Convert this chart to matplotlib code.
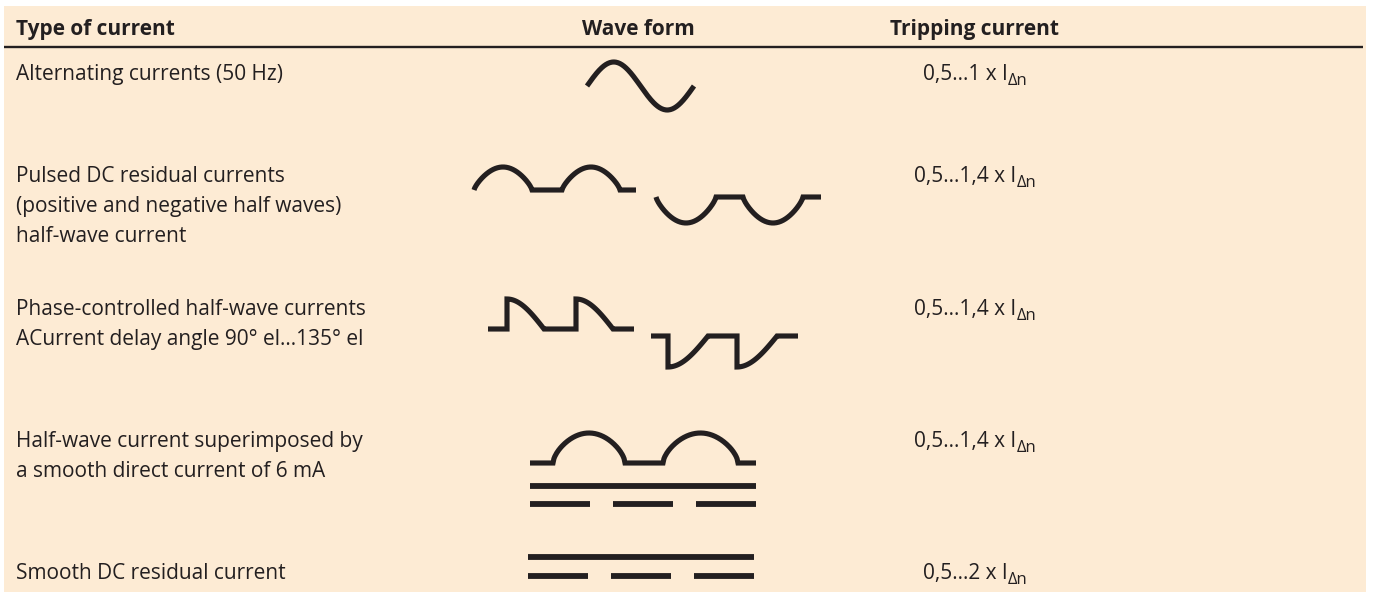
import numpy as np
import matplotlib
matplotlib.use("Agg")
import matplotlib.pyplot as plt
from matplotlib.patches import Rectangle

# ---------------- data ----------------
headers = ["Type of current", "Wave form", "Tripping current"]
current_types = [
    ["Alternating currents (50 Hz)"],
    ["Pulsed DC residual currents", "(positive and negative half waves)", "half-wave current"],
    ["Phase-controlled half-wave currents", "ACurrent delay angle 90° el…135° el"],
    ["Half-wave current superimposed by", "a smooth direct current of 6 mA"],
    ["Smooth DC residual current"],
]
wave_forms = ["ac", "pulsed", "phase", "pulsed_smooth", "smooth"]
trip_min = [0.5, 0.5, 0.5, 0.5, 0.5]
trip_max = [1, 1.4, 1.4, 1.4, 2]
trip_symbol = "I"
trip_sub = "Δn"

# ---------------- style / layout ----------------
W, H = 1373, 592
BG = "#FDEBD4"
INK = "#231F20"
FONT = "Open Sans"
FS = 15
LW_WAVE = 3.7
LW_BAR = 4.2
row_base = [80, 182, 315, 447, 579]
line_gap = 30
col_x = [16, 638, 975]

plt.rcParams["font.family"] = [FONT, "DejaVu Sans"]

fig = plt.figure(figsize=(W / 100, H / 100), dpi=100)
fig.patch.set_facecolor("white")
ax = fig.add_axes([0, 0, 1, 1])
ax.set_xlim(0, W)
ax.set_ylim(H, 0)
ax.axis("off")
ax.add_patch(Rectangle((4, 6), 1362, H - 6, fc=BG, ec="none", zorder=0))

# header
ax.text(col_x[0], 35, headers[0], fontsize=FS, fontweight="bold", color=INK, ha="left", va="baseline")
ax.text(col_x[1], 35, headers[1], fontsize=FS, fontweight="bold", color=INK, ha="center", va="baseline")
ax.text(col_x[2], 35, headers[2], fontsize=FS, fontweight="bold", color=INK, ha="center", va="baseline")
ax.plot([4, 1363], [46.5, 46.5], color=INK, lw=1.7, solid_capstyle="butt")


def fmt(v):
    return f"{v:g}".replace(".", ",")


renderer = fig.canvas.get_renderer()

# text columns
for i, lines in enumerate(current_types):
    for j, ln in enumerate(lines):
        ax.text(col_x[0], row_base[i] + j * line_gap, ln, fontsize=FS, color=INK,
                ha="left", va="baseline")
    main = f"{fmt(trip_min[i])}…{fmt(trip_max[i])} x {trip_symbol}"
    t1 = ax.text(0, row_base[i], main, fontsize=FS, color=INK, ha="left", va="baseline")
    t2 = ax.text(0, row_base[i] + 5, trip_sub, fontsize=FS * 0.8, color=INK, ha="left", va="baseline")
    w1 = t1.get_window_extent(renderer).width
    w2 = t2.get_window_extent(renderer).width
    x0 = col_x[2] - (w1 + w2) / 2
    t1.set_x(x0)
    t2.set_x(x0 + w1 + 0.5)


# ---------------- wave form glyphs ----------------
def hump(x0, w, base, A, sign=1, power=1.0, n=80):
    t = np.linspace(0, np.pi, n)
    return list(x0 + w * t / np.pi), list(base - sign * A * np.sin(t) ** power)


def quarter(x0, w, base, A, sign=1, n=40):
    s = np.linspace(0, 1, n)
    return list(x0 + w * s), list(base - sign * A * np.cos(s * np.pi / 2))


def stroke(xs, ys, lw=LW_WAVE):
    ax.plot(xs, ys, color=INK, lw=lw, solid_capstyle="butt", solid_joinstyle="miter", zorder=3)


def draw_ac():
    t = np.linspace(0, 2 * np.pi, 160)
    stroke(587 + 107 * t / (2 * np.pi), 86 - 24 * np.sin(t))


def draw_pulsed():
    xs, ys = [], []
    for x0 in (474, 562):
        hx, hy = hump(x0, 58, 190, 23, power=0.75)
        xs += hx; ys += hy
    xs += [636]; ys += [190]
    stroke(xs, ys)
    xs, ys = [], []
    for x0 in (656, 743):
        hx, hy = hump(x0, 60, 197, 26, sign=-1, power=0.75)
        xs += hx; ys += hy
    xs += [821]; ys += [197]
    stroke(xs, ys)


def draw_phase():
    xs, ys = [488], [329]
    for x0 in (507, 576):
        xs += [x0]; ys += [329]
        qx, qy = quarter(x0, 37, 329, 30)
        xs += qx; ys += qy
    xs += [634]; ys += [329]
    stroke(xs, ys)
    xs, ys = [651], [336]
    for x0 in (668, 737):
        xs += [x0]; ys += [336]
        qx, qy = quarter(x0, 40, 336, 31, sign=-1)
        xs += qx; ys += qy
    xs += [798]; ys += [336]
    stroke(xs, ys)


def draw_bars(x0, x1, y_solid, y_dash, dash_len=60, gap=23):
    stroke([x0, x1], [y_solid, y_solid], lw=LW_BAR)
    for k in range(3):
        a = x0 + k * (dash_len + gap)
        stroke([a, a + dash_len], [y_dash, y_dash], lw=LW_BAR)


def draw_pulsed_smooth():
    xs, ys = [530], [463]
    for x0, w in ((553, 72), (663, 75)):
        hx, hy = hump(x0, w, 463, 30, power=0.6)
        xs += hx; ys += hy
    xs += [756]; ys += [463]
    stroke(xs, ys)
    draw_bars(530, 756, 486, 504)


def draw_smooth():
    draw_bars(528, 754, 557, 576)


drawers = {"ac": draw_ac, "pulsed": draw_pulsed, "phase": draw_phase,
           "pulsed_smooth": draw_pulsed_smooth, "smooth": draw_smooth}
for kind in wave_forms:
    drawers[kind]()

fig.savefig("out.png", dpi=100, facecolor=fig.get_facecolor())
